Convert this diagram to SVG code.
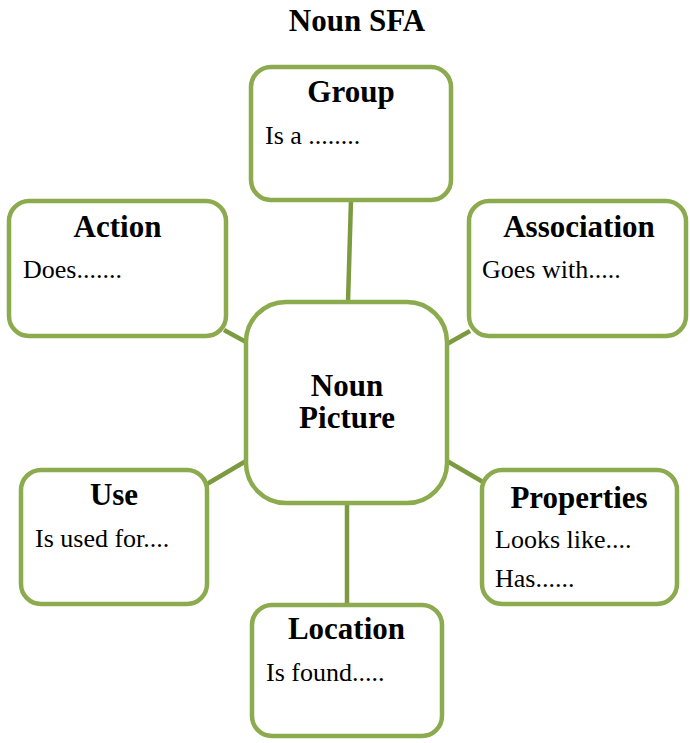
<svg xmlns="http://www.w3.org/2000/svg" width="690" height="743" viewBox="0 0 690 743">
<style>
.box{fill:#fff;stroke:#8CAA4E;stroke-width:4.5}
.conn line{stroke:#7C9A3F;stroke-width:4.5;stroke-linecap:butt}
.t{font-family:"Liberation Serif","Times New Roman",serif;font-weight:bold;font-size:31px;fill:#000;text-anchor:middle}
.b{font-family:"Liberation Serif","Times New Roman",serif;font-size:26px;fill:#000}
</style>
<rect width="690" height="743" fill="#fff"/>
<text class="t" x="357" y="31">Noun SFA</text>
<g class="conn" id="connectors">
<line x1="351" y1="200" x2="348" y2="302"/>
<line x1="224" y1="330" x2="246" y2="342"/>
<line x1="447" y1="344" x2="470" y2="331"/>
<line x1="207" y1="484" x2="246" y2="461"/>
<line x1="447" y1="461" x2="483" y2="482"/>
<line x1="347" y1="503" x2="347" y2="605"/>
</g>
<g id="group">
<rect class="box" x="251" y="67" width="200" height="133" rx="20"/>
<text class="t" x="351" y="102">Group</text>
<text class="b" x="265" y="144">Is a ........</text>
</g>
<g id="action">
<rect class="box" x="9" y="201" width="217" height="135" rx="20"/>
<text class="t" x="117.5" y="237">Action</text>
<text class="b" x="23" y="278">Does.......</text>
</g>
<g id="association">
<rect class="box" x="469" y="201" width="217" height="135" rx="20"/>
<text class="t" x="579" y="237">Association</text>
<text class="b" x="482" y="278">Goes with.....</text>
</g>
<g id="center">
<rect class="box" x="246" y="302" width="201" height="201" rx="40"/>
<text class="t" x="347" y="396">Noun</text>
<text class="t" x="347" y="428">Picture</text>
</g>
<g id="use">
<rect class="box" x="21" y="470" width="186" height="134" rx="20"/>
<text class="t" x="114" y="505">Use</text>
<text class="b" x="35" y="547">Is used for....</text>
</g>
<g id="properties">
<rect class="box" x="482" y="470" width="195" height="134" rx="20"/>
<text class="t" x="579" y="508">Properties</text>
<text class="b" x="495" y="548">Looks like....</text>
<text class="b" x="495" y="587">Has......</text>
</g>
<g id="location">
<rect class="box" x="252" y="605" width="190" height="131" rx="20"/>
<text class="t" x="346.5" y="639">Location</text>
<text class="b" x="266" y="681">Is found.....</text>
</g>
</svg>
